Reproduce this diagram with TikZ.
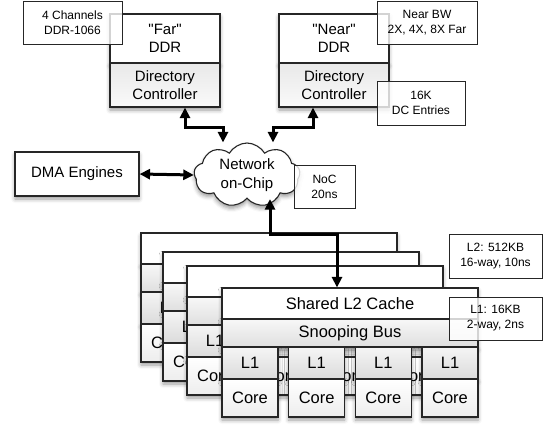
\documentclass[tikz,border=0pt]{standalone}
\usepackage{fontspec}
\setmainfont{Liberation Sans}
\usetikzlibrary{shapes.symbols,arrows.meta,shadows.blur}

\begin{document}
\begin{tikzpicture}[x=1pt,y=-1pt,
    box/.style={draw=black!85, line width=1.1pt, fill=white, inner sep=0pt, align=center,
      font=\fontsize{15}{17.5}\selectfont,
      blur shadow={shadow xshift=0pt, shadow yshift=-3pt, shadow blur radius=4pt, shadow opacity=40}},
    dcbox/.style={box, top color=gray!18, bottom color=gray!4},
    cellbox/.style={box, font=\fontsize{16.5}{19}\selectfont},
    busbox/.style={cellbox, top color=gray!6, bottom color=gray!25},
    l1box/.style={cellbox, top color=gray!8, bottom color=gray!28, minimum width=56, minimum height=32},
    corebox/.style={cellbox, top color=white, bottom color=gray!14, minimum width=56, minimum height=38},
    lbl/.style={draw=black!85, line width=0.9pt, fill=white, fill opacity=0.8, text opacity=1,
      inner sep=0pt, align=center, font=\fontsize{12}{15}\selectfont},
    link/.style={{Triangle[length=10.5pt,width=10pt]}-{Triangle[length=10.5pt,width=10pt]}, line width=3pt}]
  \useasboundingbox (0,0) rectangle (543,425);

  % Memories and directory controllers
  \node[box, minimum width=110, minimum height=49] (farmem) at (165,38.5) {\textquotedbl Far\textquotedbl\\DDR};
  \node[dcbox, minimum width=110, minimum height=44] (fardc) at (165,85) {Directory\\Controller};
  \node[box, minimum width=110, minimum height=49] (nearmem) at (334,38.5) {\textquotedbl Near\textquotedbl\\DDR};
  \node[dcbox, minimum width=110, minimum height=44] (neardc) at (334,85) {Directory\\Controller};

  % DMA and network
  \node[box, minimum width=124, minimum height=44] (dma) at (77,174) {DMA Engines};
  \node[box, cloud, cloud puffs=9, cloud puff arc=120, aspect=1.6, minimum width=106, minimum height=64,
    font=\fontsize{15}{18.5}\selectfont] (noc) at (247,175) {Network\\on-Chip};

  % Clusters, back to front
  \foreach \cx/\cy/\i/\show in {141/233/a/0, 163/252/b/0, 187/266/c/0, 222/288/d/1} {
    \node[cellbox, minimum width=256, minimum height=31] (l2\i) at ({\cx+128},{\cy+15.5}) {\ifnum\show=1 Shared L2 Cache\fi};
    \node[busbox, minimum width=256, minimum height=28] (bus\i) at ({\cx+128},{\cy+45}) {\ifnum\show=1 Snooping Bus\fi};
    \foreach \j in {0,...,3} {
      \node[l1box] (l1\i\j) at ({\cx+28+\j*66.67},{\cy+75}) {L1};
      \node[corebox] (core\i\j) at ({\cx+28+\j*66.67},{\cy+110}) {Core};
    }
  }

  % Connections
  \draw[link] ([xshift=20pt]fardc.south) -- ++(0,20) -| ([xshift=-24pt]noc.north);
  \draw[link] ([xshift=-21pt]neardc.south) -- ++(0,20) -| ([xshift=26pt]noc.north);
  \draw[link] (dma.east) -- (noc.west);
  \draw[link] ([xshift=23pt]noc.south) -- ++(0,35) -| ([xshift=-13pt]l2d.north);

  % Notes
  \node[lbl, minimum width=99, minimum height=43] (chanlbl) at (72.5,22.5) {4 Channels\\DDR-1066};
  \node[lbl, minimum width=100, minimum height=43] (bwlbl) at (427,22.5) {Near BW\\2X, 4X, 8X Far};
  \node[lbl, minimum width=88, minimum height=44] (dclbl) at (421,103) {16K\\DC Entries};
  \node[lbl, minimum width=61, minimum height=43] (noclbl) at (324.5,186.5) {NoC\\20ns};
  \node[lbl, minimum width=93, minimum height=44] (l2lbl) at (495.5,256) {L2: 512KB\\16-way, 10ns};
  \node[lbl, minimum width=93, minimum height=43] (l1lbl) at (495.5,318.5) {L1: 16KB\\2-way, 2ns};
\end{tikzpicture}
\end{document}
